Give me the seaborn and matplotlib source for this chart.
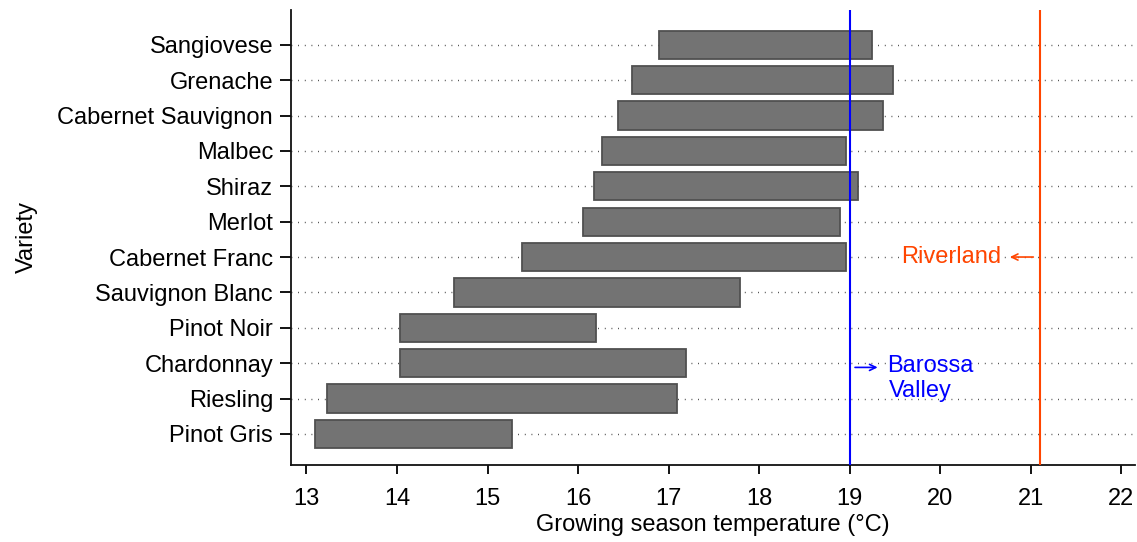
import matplotlib
matplotlib.use("Agg")
import matplotlib.pyplot as plt
import seaborn as sns

# Temperature ranges per variety (bottom to top)
varieties = ["Pinot Gris", "Riesling", "Chardonnay", "Pinot Noir", "Sauvignon Blanc",
             "Cabernet Franc", "Merlot", "Shiraz", "Malbec", "Cabernet Sauvignon",
             "Grenache", "Sangiovese"]
low = [13.09, 13.23, 14.03, 14.03, 14.63, 15.38, 16.05, 16.18, 16.26, 16.44, 16.60, 16.90]
high = [15.27, 17.09, 17.19, 16.20, 17.79, 18.96, 18.89, 19.09, 18.96, 19.37, 19.48, 19.25]

# Region reference temperatures
barossa = 19.0
riverland = 21.1

sns.set_style("ticks")
plt.rcParams['font.family'] = ['Liberation Sans', 'DejaVu Sans']
plt.rcParams['text.color'] = 'black'
plt.rcParams['axes.labelcolor'] = 'black'
plt.rcParams['xtick.color'] = 'black'
plt.rcParams['ytick.color'] = 'black'

fig = plt.figure(figsize=(11.37, 5.42), dpi=100)
ax = fig.add_axes([0.256, 0.142, 0.742, 0.840])

ypos = list(range(len(varieties)))
widths = [h - l for l, h in zip(low, high)]

# dotted guide lines behind bars
for y in ypos:
    ax.axhline(y, color='#333333', linestyle=(0, (0.6, 4.2)), linewidth=1.0, zorder=0)

ax.barh(ypos, widths, left=low, height=0.8, color='#737373',
        edgecolor='#505050', linewidth=1.3, zorder=2)

ax.axvline(barossa, color='#0000FF', linewidth=1.5, zorder=3)
ax.axvline(riverland, color='#FF4500', linewidth=1.5, zorder=3)

fs = 17
arrow = '->, head_length=0.45, head_width=0.22'
# Riverland label with left-pointing arrow
ax.annotate("", xy=(riverland - 0.33, 5), xytext=(riverland - 0.07, 5),
            arrowprops=dict(arrowstyle=arrow, color='#FF4500', lw=1.2,
                            shrinkA=0, shrinkB=0))
ax.text(riverland - 0.42, 5, "Riverland", color='#FF4500', ha='right',
        va='center', fontsize=fs)
# Barossa Valley label with right-pointing arrow
ax.annotate("", xy=(barossa + 0.31, 1.88), xytext=(barossa + 0.06, 1.88),
            arrowprops=dict(arrowstyle=arrow, color='#0000FF', lw=1.2,
                            shrinkA=0, shrinkB=0))
ax.text(barossa + 0.41, 1.92, "Barossa", color='#0000FF', ha='left',
        va='center', fontsize=fs)
ax.text(barossa + 0.43, 1.22, "Valley", color='#0000FF', ha='left',
        va='center', fontsize=fs)

ax.set_yticks(ypos)
ax.set_yticklabels(varieties)
ax.set_xticks(range(13, 23))
ax.set_xlim(12.83, 22.15)
ax.set_ylim(-0.88, 11.99)

ax.set_xlabel("Growing season temperature (\u00b0C)", fontsize=17, labelpad=3)
ax.set_ylabel("Variety", fontsize=17, labelpad=14)
ax.tick_params(axis='both', labelsize=17, width=1.3)
ax.tick_params(axis='y', length=8, pad=5)
ax.tick_params(axis='x', length=6.5, pad=10)

sns.despine(ax=ax)
for s in ['left', 'bottom']:
    ax.spines[s].set_linewidth(1.3)
    ax.spines[s].set_color('#111111')

fig.savefig("out.png", dpi=100)
